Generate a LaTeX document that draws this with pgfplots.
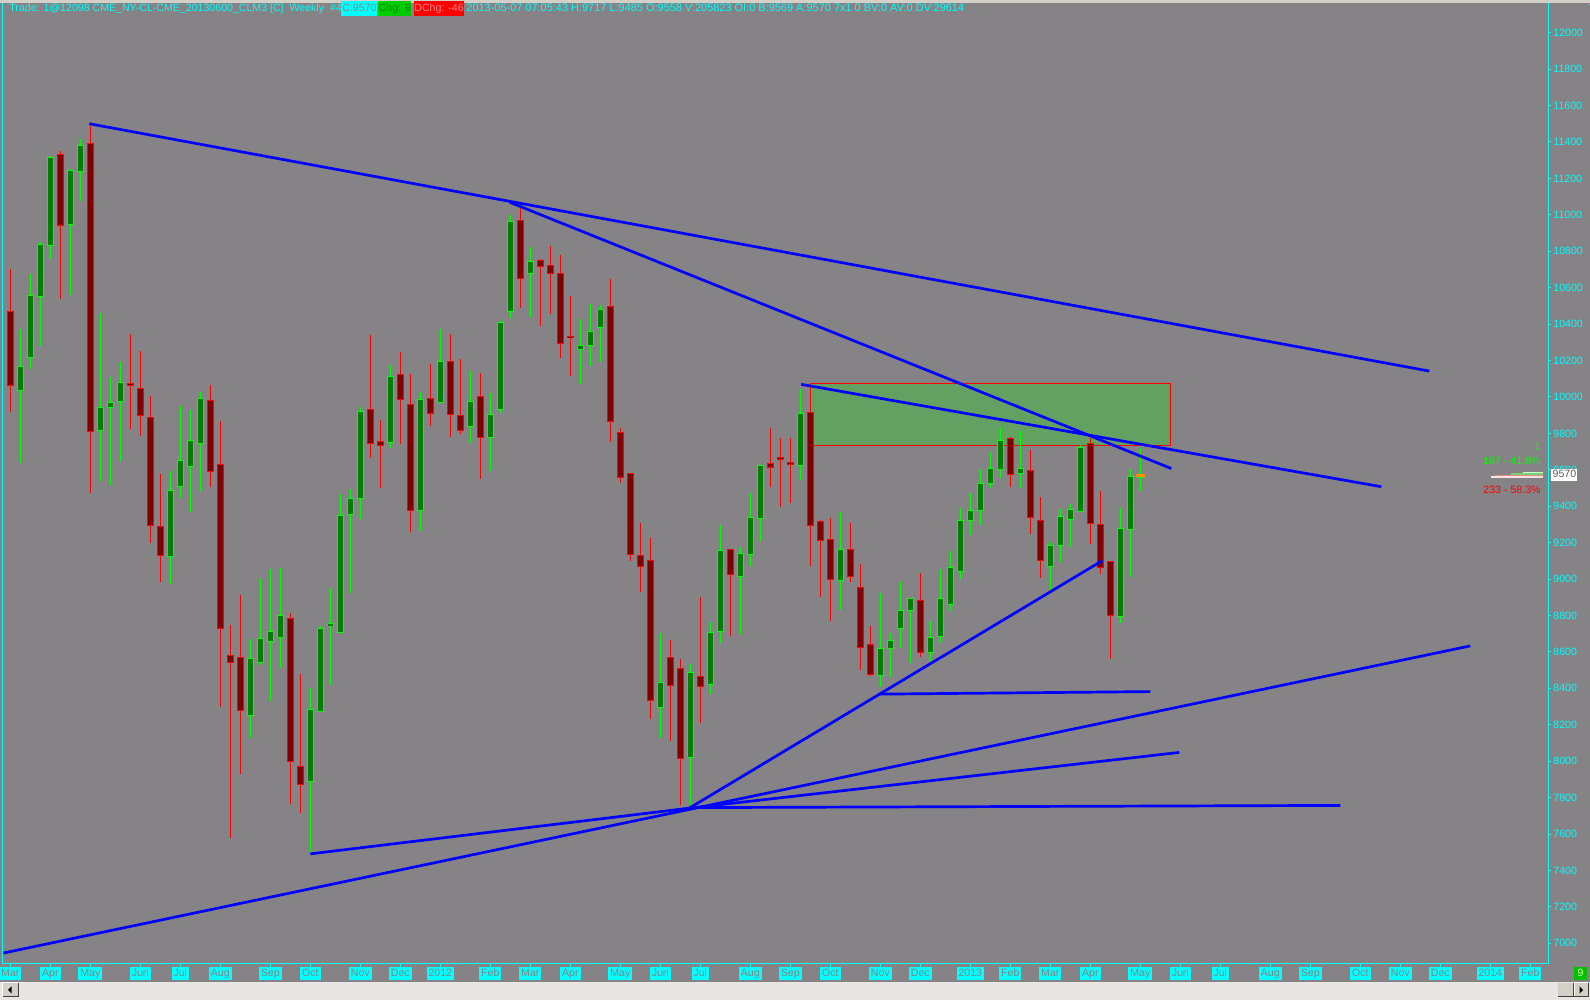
\documentclass[border=0pt]{standalone}
\usepackage{pgfplots}
\pgfplotsset{compat=1.18}
\usepackage{pgfplotstable}
\usepackage{fontspec}
\setmainfont{Liberation Sans}

\definecolor{bg}{RGB}{133,131,133}
\definecolor{aqua}{RGB}{0,255,255}
\definecolor{candleG}{RGB}{0,255,0}
\definecolor{bodyG}{RGB}{0,128,0}
\definecolor{candleR}{RGB}{255,0,0}
\definecolor{bodyR}{RGB}{128,0,0}
\definecolor{zone}{RGB}{99,161,99}
\definecolor{trend}{RGB}{0,0,255}
\definecolor{lastbar}{RGB}{255,140,0}
\definecolor{winbtn}{RGB}{212,208,200}
\definecolor{winshadow}{RGB}{64,64,64}
\definecolor{scroll}{RGB}{232,230,226}
\definecolor{chgbox}{RGB}{0,204,0}
\definecolor{chgtext}{RGB}{0,130,0}
\definecolor{dchgtext}{RGB}{235,135,135}
\definecolor{pricetext}{RGB}{90,90,90}
\definecolor{barA}{RGB}{120,210,120}
\definecolor{barB}{RGB}{200,255,200}
\definecolor{barC}{RGB}{225,140,140}
\definecolor{barD}{RGB}{255,225,225}
\definecolor{ninebox}{RGB}{0,192,0}
\definecolor{ninetext}{RGB}{210,255,160}

\newcommand\tf{\fontsize{5.3}{6}\selectfont}

% weekly bars: i = week number from the first week of March 2011
\pgfplotstableread{
i O H L C
1 10037 10371 9635 10169
2 10217 10675 10156 10558
3 10551 10849 10278 10837
4 10834 11322 10758 11312
6 10948 11252 10558 11242
7 11239 11419 11077 11378
9 9817 10462 9536 9941
10 9941 10108 9516 9971
11 9974 10194 9647 10080
16 9126 9592 8974 9486
17 9506 9951 9445 9653
18 9620 9926 9369 9759
19 9746 10027 9483 9989
24 8251 8671 8129 8564
25 8542 9005 8527 8676
26 8656 9058 8332 8714
27 8678 9060 8514 8800
30 7888 8400 7500 8285
31 8273 8742 8273 8728
32 8745 8953 8418 8755
33 8709 9467 8709 9350
34 9357 9495 8921 9442
35 9442 9944 9329 9920
38 9751 10178 9718 10113
41 9378 10028 9263 9986
43 9972 10375 9972 10195
46 9836 10143 9747 9974
48 9775 10019 9592 9904
49 9932 10418 9913 10408
50 10467 10999 10432 10964
52 10680 10821 10441 10744
57 10258 10427 10073 10284
58 10285 10508 10171 10360
59 10381 10504 10190 10481
65 8296 8706 8125 8434
68 8021 8534 7757 8489
70 8422 8765 8371 8708
71 8714 9298 8649 9158
73 9016 9177 8697 9141
74 9135 9472 9071 9339
75 9330 9629 9211 9625
79 9625 10041 9542 9910
83 8990 9366 8829 9164
87 8468 8922 8409 8620
88 8620 8702 8460 8664
89 8729 8984 8623 8828
90 8825 8898 8541 8894
92 8596 8770 8552 8680
93 8684 9055 8651 8894
94 8859 9152 8826 9064
95 9042 9390 9000 9322
96 9321 9471 9244 9377
97 9377 9604 9299 9526
98 9526 9698 9502 9608
99 9603 9829 9553 9762
101 9580 9813 9502 9608
104 9070 9202 8933 9185
105 9185 9383 9096 9346
106 9328 9412 9178 9383
107 9372 9734 9372 9723
111 8795 9390 8761 9279
112 9273 9604 9013 9564
113 9558 9717 9485 9570
}\upweeks

\pgfplotstableread{
i O H L C
0 10470 10700 9916 10062
5 11333 11348 10538 10943
8 11393 11487 9475 9812
12 10075 10343 9822 10062
13 10047 10252 9784 9898
14 9885 10004 9197 9296
15 9288 9577 8982 9131
20 9981 10068 9508 9592
21 9627 9868 8299 8731
22 8580 8747 7580 8544
23 8570 8911 7932 8279
28 8785 8812 7767 8000
29 7968 8479 7714 7874
36 9932 10340 9667 9747
37 9756 9873 9502 9732
39 10124 10246 9744 9988
40 9958 10127 9258 9378
42 9993 10181 9838 9908
44 10195 10345 9779 9906
45 9897 10209 9798 9817
47 10002 10131 9552 9779
51 10969 11054 10490 10652
53 10748 10758 10387 10718
54 10723 10828 10458 10678
55 10678 10779 10216 10296
56 10332 10554 10113 10325
60 10497 10648 9755 9863
61 9806 9827 9525 9559
62 9581 9585 9097 9135
63 9131 9307 8931 9071
64 9103 9226 8233 8332
66 8570 8666 8112 8417
67 8509 8560 7761 8016
69 8466 8901 8212 8411
72 9164 9165 8689 9026
76 9636 9829 9508 9614
77 9668 9774 9398 9657
78 9640 9774 9415 9631
80 9916 10073 9071 9296
81 9317 9324 8899 9213
82 9218 9336 8772 8995
84 9164 9307 8986 9016
85 8956 9082 8500 8625
86 8642 8742 8468 8477
91 8885 9033 8574 8596
100 9773 9780 9507 9575
102 9597 9709 9249 9339
103 9322 9451 9008 9103
108 9742 9775 9194 9306
109 9301 9484 9030 9064
110 9097 9097 8563 8801
}\downweeks

\pgfplotsset{
  vbar/.style 2 args={draw=none, mark=none,
    error bars/y dir=both, error bars/y explicit, error bars/error mark=none,
    error bars/error bar style={solid, line width=#2, draw=#1}},
}

\begin{document}
\begin{tikzpicture}
\useasboundingbox (0,0) rectangle (795pt,500pt);
\fill[bg] (0,0) rectangle (795pt,500pt);

\begin{axis}[
  at={(1.25pt,18pt)}, anchor=south west,
  width=772.75pt, height=481pt, scale only axis,
  xmin=-0.78, xmax=153.77, ymin=6886.3, ymax=12168.6,
  axis x line=bottom, axis y line=right,
  axis line style={-, draw=aqua, line width=0.5pt},
  x axis line style={-}, y axis line style={-},
  tick align=outside, major tick length=1.5pt,
  tick style={draw=aqua, line width=0.5pt},
  xtick={0,4,8,13,17,21,26,30,35,39,43,48,52,56,61,65,69,74,78,82,87,91,96,100,104,108,113,117,121,126,130,135,139,143,148,152},
  xticklabels={Mar,Apr,May,Jun,Jul,Aug,Sep,Oct,Nov,Dec,2012,Feb,Mar,Apr,May,Jun,Jul,Aug,Sep,Oct,Nov,Dec,2013,Feb,Mar,Apr,May,Jun,Jul,Aug,Sep,Oct,Nov,Dec,2014,Feb},
  ytick={7000,7200,...,12000},
  yticklabels={7000,7200,7400,7600,7800,8000,8200,8400,8600,8800,9000,9200,9400,9600,9800,10000,10200,10400,10600,10800,11000,11200,11400,11600,11800,12000},
  xticklabel style={font=\tf, fill=aqua, text=bg, inner xsep=1pt, inner ysep=0.6pt, text height=4pt, text depth=1.2pt},
  yticklabel style={font=\tf, text=aqua, inner sep=1pt},
]

% resistance zone
\addplot[draw=candleR, line width=0.5pt, fill=zone] coordinates {(80,9735) (116,9735) (116,10075) (80,10075)} -- cycle;

% wicks
\addplot[vbar={candleG}{0.5pt}] table[x=i, y expr={(\thisrow{H}+\thisrow{L})/2}, y error expr={(\thisrow{H}-\thisrow{L})/2}] {\upweeks};
\addplot[vbar={candleR}{0.5pt}] table[x=i, y expr={(\thisrow{H}+\thisrow{L})/2}, y error expr={(\thisrow{H}-\thisrow{L})/2}] {\downweeks};
% bodies: bright outline, dark inside
\addplot[vbar={candleG}{3.25pt}] table[x=i, y expr={(\thisrow{O}+\thisrow{C})/2}, y error expr={abs(\thisrow{O}-\thisrow{C})/2+2.75}] {\upweeks};
\addplot[vbar={bodyG}{2.25pt}] table[x=i, y expr={(\thisrow{O}+\thisrow{C})/2}, y error expr={max(abs(\thisrow{O}-\thisrow{C})/2-2.75,0)}] {\upweeks};
\addplot[vbar={candleR}{3.25pt}] table[x=i, y expr={(\thisrow{O}+\thisrow{C})/2}, y error expr={abs(\thisrow{O}-\thisrow{C})/2+2.75}] {\downweeks};
\addplot[vbar={bodyR}{2.25pt}] table[x=i, y expr={(\thisrow{O}+\thisrow{C})/2}, y error expr={max(abs(\thisrow{O}-\thisrow{C})/2-2.75,0)}] {\downweeks};
% last price marker
\addplot[lastbar, line width=1.3pt] coordinates {(112.55,9569) (113.45,9569)};

% trend lines
\addplot[trend, line width=1.35pt] coordinates {(7.9,11500) (141.9,10142)};
\addplot[trend, line width=1.35pt] coordinates {(49.9,11070) (116.1,9607)};
\addplot[trend, line width=1.35pt] coordinates {(79.1,10069) (137.1,9507)};
\addplot[trend, line width=1.35pt] coordinates {(67.9,7742) (109.2,9101)};
\addplot[trend, line width=1.35pt] coordinates {(-0.73,6946) (146.0,8633)};
\addplot[trend, line width=1.35pt] coordinates {(30,7491) (67.9,7742)};
\addplot[trend, line width=1.35pt] coordinates {(67.9,7742) (116.9,8048)};
\addplot[trend, line width=1.35pt] coordinates {(67.9,7745) (133.0,7757)};
\addplot[trend, line width=1.35pt] coordinates {(86.8,8368) (114.0,8382)};
\end{axis}

\begin{scope}[x=0.5pt, y=0.5pt, every node/.style={font=\tf, inner sep=0pt, text height=3.9pt, text depth=1.1pt}]
% window edges
\fill[winbtn] (0,997) rectangle (1590,1000);
\draw[aqua, line width=0.5pt] (2.2,36) -- (2.2,997);
% title bar
\node[anchor=west, text=aqua] at (9,991.7) {Trade: 1@12098 CME\_NY-CL-CME\_20130600\_CLM3 [C]\ \ Weekly\ \ \#4};
\node[anchor=west, fill=aqua, text=bg, minimum width=18pt, minimum height=7.3pt] at (341,991.7) {C:9570};
\node[anchor=west, fill=chgbox, text=chgtext, minimum width=16.5pt, minimum height=7.3pt] at (378,991.7) {Chg: 9};
\node[anchor=west, fill=candleR, text=dchgtext, minimum width=24.5pt, minimum height=7.3pt] at (414,991.7) {DChg: -46};
\node[anchor=west, text=aqua, font=\fontsize{5.48}{6}\selectfont] at (466,991.7) {2013-05-07 07:05:43 H:9717 L:9485 O:9558 V:205823 OI:0 B:9569 A:9570 7x1 0 BV:0 AV:0 DV:29614};
% position summary at the right
\node[anchor=east, text=candleG] at (1541,552) {1};
\node[anchor=east, text=candleG] at (1541,538.3) {167 - 41.8\%};
\node[anchor=east, text=candleR] at (1541,509.3) {233 - 58.3\%};
\fill[barA] (1511,525) rectangle (1543,527.3);
\fill[barB] (1523,526.5) rectangle (1543,528);
\fill[barC] (1495,523.5) rectangle (1543,525);
\fill[barD] (1491,522) rectangle (1543,523.5);
\node[anchor=west, fill=white, text=pricetext, minimum width=13pt, minimum height=6pt] at (1551,525) {9570};
% scroll bar
\fill[scroll] (0,0) rectangle (1590,18);
\fill[winbtn] (2.5,3) rectangle (18,17);
\draw[white, line width=0.5pt] (2.5,3) -- (2.5,17) -- (18,17);
\draw[winshadow, line width=0.5pt] (2.5,3) -- (18,3) -- (18,17);
\fill[black] (8,10) -- (11.5,13.5) -- (11.5,6.5) -- cycle;
\fill[winbtn] (1558,3) rectangle (1573,17);
\draw[winshadow, line width=0.5pt] (1558,3) -- (1573,3) -- (1573,17);
\fill[winbtn] (1574,3) rectangle (1588,17);
\draw[white, line width=0.5pt] (1574,3) -- (1574,17) -- (1588,17);
\draw[winshadow, line width=0.5pt] (1574,3) -- (1588,3) -- (1588,17);
\fill[black] (1583,10) -- (1579.5,13.5) -- (1579.5,6.5) -- cycle;
\node[fill=ninebox, text=ninetext, minimum width=6.5pt, minimum height=6.5pt] at (1580.5,26.5) {9};
\end{scope}
\end{tikzpicture}
\end{document}
